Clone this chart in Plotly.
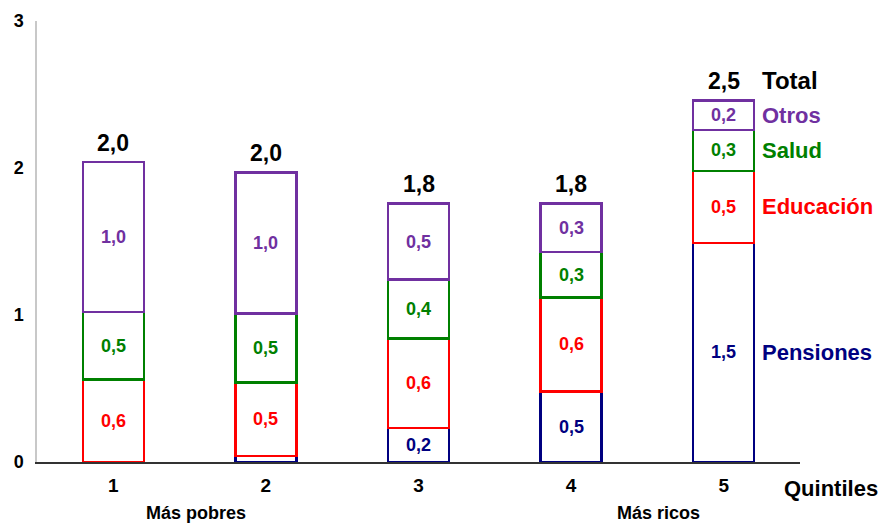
import plotly.graph_objects as go

# Quintiles of income (1 = poorest, 5 = richest)
quintiles = ["1", "2", "3", "4", "5"]

# Spending by component, stacked bottom to top
pensiones = [0.0, 0.04, 0.23, 0.48, 1.49]
educacion = [0.56, 0.50, 0.61, 0.64, 0.49]
salud = [0.46, 0.47, 0.40, 0.31, 0.28]
otros = [1.02, 0.96, 0.52, 0.33, 0.20]

y_ticks = [0, 1, 2, 3]

series = [
    ("Pensiones", pensiones, "#000080"),
    ("Educación", educacion, "#FF0000"),
    ("Salud", salud, "#008000"),
    ("Otros", otros, "#7030A0"),
]

FONT = "Liberation Sans, Arial, sans-serif"


def fmt(v):
    return f"{v:.1f}".replace(".", ",")


def bold(s):
    return f"<b>{s}</b>"


fig = go.Figure()
annotations = []
bases = [0.0] * len(quintiles)
for name, vals, color in series:
    # no outline for empty segments
    widths = [2.5 if v > 0 else 0 for v in vals]
    fig.add_trace(go.Bar(
        x=quintiles,
        y=vals,
        name=name,
        width=0.4,
        marker=dict(color="white", line=dict(color=color, width=widths)),
        hoverinfo="skip",
    ))
    # value label centred in each segment
    for i, v in enumerate(vals):
        if v >= 0.1:
            annotations.append(dict(
                x=i, y=bases[i] + v / 2, xref="x", yref="y",
                text=bold(fmt(v)), showarrow=False,
                font=dict(family=FONT, size=18, color=color),
            ))
        bases[i] += v

totals = bases

for i, t in enumerate(totals):
    annotations.append(dict(
        x=i, y=t, xref="x", yref="y", text=bold(fmt(t)), showarrow=False,
        yanchor="bottom", yshift=4,
        font=dict(family=FONT, size=23, color="black"),
    ))

# Series names beside the last bar, at the middle of each segment
last = len(quintiles) - 1
base = 0.0
for name, vals, color in series:
    mid = base + vals[last] / 2
    base += vals[last]
    annotations.append(dict(
        x=last, y=mid, xref="x", yref="y", text=bold(name), showarrow=False,
        xanchor="left", xshift=36,
        font=dict(family=FONT, size=22, color=color),
    ))
annotations.append(dict(
    x=last, y=totals[last], xref="x", yref="y", text=bold("Total"), showarrow=False,
    xanchor="left", yanchor="bottom", xshift=36, yshift=4,
    font=dict(family=FONT, size=24, color="black"),
))

# Axis captions
annotations.append(dict(
    x=1, y=0, xref="paper", yref="paper", text=bold("Quintiles"), showarrow=False,
    xanchor="left", yanchor="middle", xshift=-18, yshift=-26,
    font=dict(family=FONT, size=22, color="black"),
))
for xpos, txt in [(0.54, "Más pobres"), (3.57, "Más ricos")]:
    annotations.append(dict(
        x=xpos, y=0, xref="x", yref="paper", text=bold(txt), showarrow=False,
        yanchor="middle", yshift=-51,
        font=dict(family=FONT, size=18, color="black"),
    ))

fig.update_layout(
    width=883, height=525,
    margin=dict(l=37, r=83, t=21, b=63),
    barmode="stack",
    showlegend=False,
    plot_bgcolor="white",
    paper_bgcolor="white",
    font=dict(family=FONT, color="black"),
    annotations=annotations,
)
fig.update_xaxes(
    type="category", range=[-0.5, 4.5], automargin=False,
    tickvals=quintiles, ticktext=[bold(q) for q in quintiles],
    showline=True, linecolor="#333333", linewidth=1.5,
    showgrid=False, ticks="",
    ticklabelstandoff=5,
    tickfont=dict(family=FONT, size=19, color="black"),
)
fig.update_yaxes(
    range=[0, 3], automargin=False,
    tickvals=y_ticks, ticktext=[bold(t) for t in y_ticks],
    showline=True, linecolor="#c8c8c8", linewidth=1.5,
    showgrid=False, zeroline=False, ticks="",
    ticklabelstandoff=8,
    tickfont=dict(family=FONT, size=18, color="black"),
)

fig.write_html("out.html")
